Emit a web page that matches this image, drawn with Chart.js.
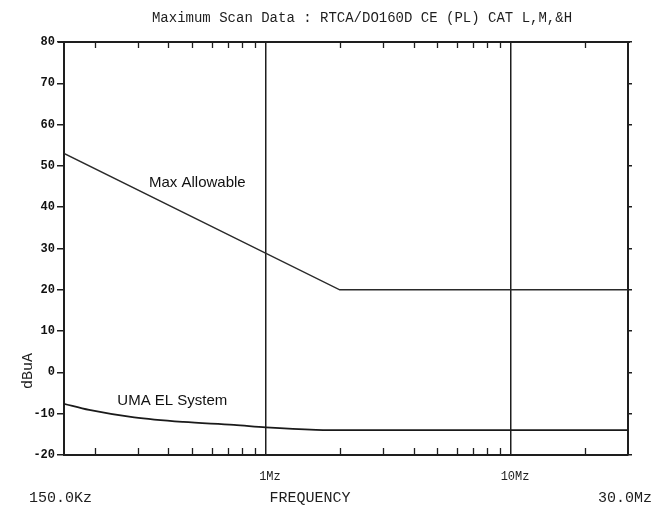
<!DOCTYPE html>
<html>
<head>
<meta charset="utf-8">
<script src="https://cdn.jsdelivr.net/npm/chart.js@4.4.1/dist/chart.umd.min.js"></script>
<style>
    html, body { margin: 0; padding: 0; background: #fff; }
    #wrap { width: 667px; height: 508px; }
</style>
</head>
<body>
<div id="wrap"><canvas id="scan" width="667" height="508"></canvas></div>
<script>
// limit line (DO-160D CE power lines, cat L,M,&H)
const freqMax = [150e3, 2e6, 30e6];
const levelMax = [53, 20, 20];
// measured maximum scan
const freqUma = [150e3, 190e3, 290e3, 460e3, 740e3, 1e6, 1.6e6, 2.2e6, 30e6];
const levelUma = [-7.6, -9.1, -10.9, -12.0, -12.7, -13.3, -13.9, -14.0, -14.0];

const decadeLines = [1e6, 1e7];
const decadeLabels = ["1Mz", "10Mz"];
const minorTicks = [2e5, 3e5, 4e5, 5e5, 6e5, 7e5, 8e5, 9e5,
    2e6, 3e6, 4e6, 5e6, 6e6, 7e6, 8e6, 9e6, 2e7];
const yTicks = [-20, -10, 0, 10, 20, 30, 40, 50, 60, 70, 80];

const titleText = "Maximum Scan Data : RTCA/DO160D CE (PL) CAT L,M,&H";
const INK = "#1e1e1e";
const MONO = "'Liberation Mono', 'DejaVu Sans Mono', monospace";

const toPoints = (xs, ys) => xs.map((x, i) => ({ x: x, y: ys[i] }));

// inward ticks, frame top and all the plotter texts
const plotterExtras = {
    id: "plotterExtras",
    afterDraw(chart) {
        const ctx = chart.ctx;
        const area = chart.chartArea;
        const xs = chart.scales.x;
        const ys = chart.scales.y;
        ctx.save();
        ctx.strokeStyle = INK;
        ctx.lineWidth = 2;
        ctx.beginPath();
        ctx.moveTo(area.left - 6, area.top);
        ctx.lineTo(area.right + 2, area.top);
        ctx.stroke();

        ctx.lineWidth = 1.3;
        minorTicks.forEach((f) => {
            const px = Math.round(xs.getPixelForValue(f)) + 0.5;
            ctx.beginPath();
            ctx.moveTo(px, area.top);
            ctx.lineTo(px, area.top + 6);
            ctx.moveTo(px, area.bottom);
            ctx.lineTo(px, area.bottom - 7);
            ctx.stroke();
        });

        ctx.fillStyle = INK;
        ctx.textBaseline = "middle";
        ctx.textAlign = "center";
        ctx.font = "14px " + MONO;
        ctx.fillText(titleText, 362, 18);

        ctx.font = "12px " + MONO;
        decadeLines.forEach((f, i) => {
            ctx.fillText(decadeLabels[i], xs.getPixelForValue(f) + 4, 477);
        });
        ctx.font = "15px " + MONO;
        ctx.fillText("FREQUENCY", 310, 498);
        ctx.textAlign = "left";
        ctx.fillText("150.0Kz", 29, 498);
        ctx.fillText("30.0Mz", 598, 498);

        ctx.save();
        ctx.translate(28, 371);
        ctx.rotate(-Math.PI / 2);
        ctx.textAlign = "center";
        ctx.font = "15px " + MONO;
        ctx.fillText("dBuA", 0, 0);
        ctx.restore();

        ctx.textAlign = "center";
        ctx.font = "15px 'Liberation Sans', Arial, sans-serif";
        ctx.fillStyle = "#111";
        ctx.fillText("Max Allowable", xs.getPixelForValue(525e3), ys.getPixelForValue(46));
        ctx.fillText("UMA EL System", xs.getPixelForValue(415e3), ys.getPixelForValue(-7));
        ctx.restore();
    },
};

new Chart(document.getElementById("scan"), {
    type: "line",
    data: {
        datasets: [
            {
                label: "Max Allowable",
                data: toPoints(freqMax, levelMax),
                borderColor: "#2a2a2a",
                borderWidth: 1.5,
                pointRadius: 0,
                tension: 0,
            },
            {
                label: "UMA EL System",
                data: toPoints(freqUma, levelUma),
                borderColor: "#1a1a1a",
                borderWidth: 1.8,
                pointRadius: 0,
                cubicInterpolationMode: "monotone",
            },
        ],
    },
    options: {
        responsive: false,
        devicePixelRatio: 1,
        animation: false,
        layout: {
            padding: { top: 42, right: 35, left: 0, bottom: 0 },
        },
        plugins: {
            legend: { display: false },
            tooltip: { enabled: false },
        },
        scales: {
            x: {
                type: "logarithmic",
                min: 150e3,
                max: 30e6,
                ticks: { display: false },
                grid: {
                    drawTicks: false,
                    lineWidth: 1.5,
                    color: (c) =>
                        c.tick && decadeLines.includes(c.tick.value) ? INK : "rgba(0,0,0,0)",
                },
                border: { display: true, color: INK, width: 2 },
                afterFit: (scale) => {
                    scale.height = 53;
                },
            },
            y: {
                min: -20,
                max: 80,
                afterBuildTicks: (scale) => {
                    scale.ticks = yTicks.map((v) => ({ value: v }));
                },
                ticks: {
                    color: "#111",
                    padding: 2,
                    font: { family: MONO, size: 12, weight: "bold" },
                },
                grid: {
                    drawOnChartArea: false,
                    tickLength: 7,
                    color: INK,
                    lineWidth: 1.5,
                },
                border: { display: true, color: INK, width: 2 },
                afterFit: (scale) => {
                    scale.width = 64;
                },
            },
            y2: {
                position: "right",
                min: -20,
                max: 80,
                afterBuildTicks: (scale) => {
                    scale.ticks = yTicks.map((v) => ({ value: v }));
                },
                ticks: { display: false },
                grid: {
                    drawOnChartArea: false,
                    tickLength: 4,
                    color: INK,
                    lineWidth: 1.5,
                },
                border: { display: true, color: INK, width: 2 },
                afterFit: (scale) => {
                    scale.width = 4;
                },
            },
        },
    },
    plugins: [plotterExtras],
});
</script>
</body>
</html>
